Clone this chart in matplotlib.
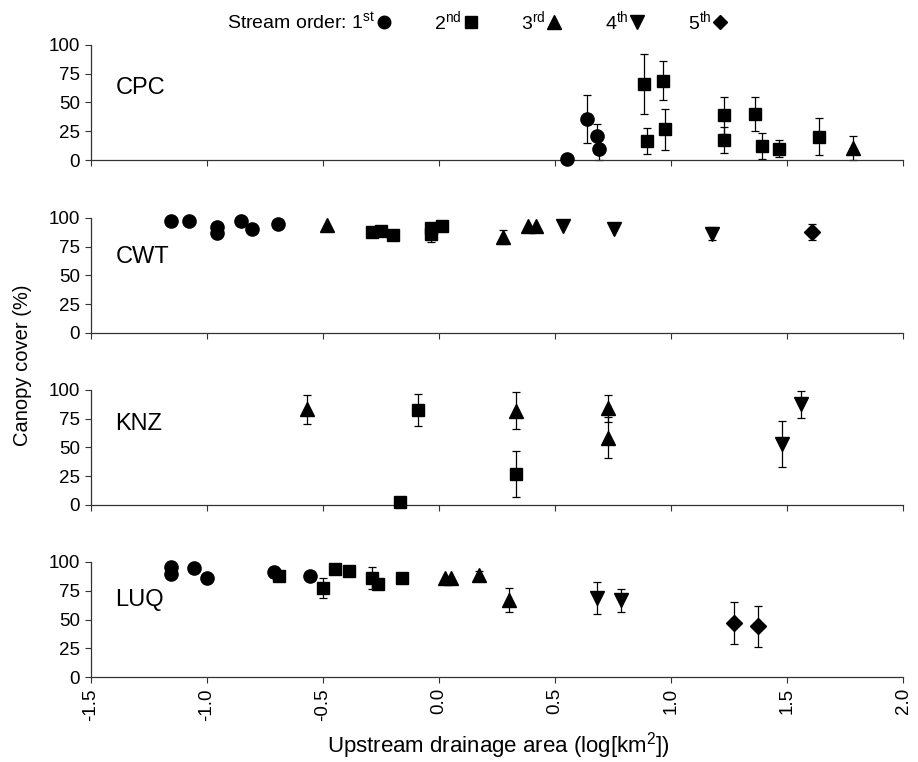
import matplotlib
matplotlib.use("Agg")
import matplotlib.pyplot as plt
from matplotlib.lines import Line2D

plt.rcParams['font.family'] = ['Liberation Sans', 'DejaVu Sans']
plt.rcParams['mathtext.fontset'] = 'custom'
plt.rcParams['mathtext.rm'] = 'Liberation Sans'
plt.rcParams['mathtext.it'] = 'Liberation Sans'

# stream order -> marker
order_markers = {1: 'o', 2: 's', 3: '^', 4: 'v', 5: 'D'}
order_sizes = {1: 9.5, 2: 9, 3: 10, 4: 10, 5: 8}
order_labels = ['Stream order: 1$^{\\rm st}$', '2$^{\\rm nd}$', '3$^{\\rm rd}$',
                '4$^{\\rm th}$', '5$^{\\rm th}$']

sites = ['CPC', 'CWT', 'KNZ', 'LUQ']

# CPC
cpc_x = [0.55, 0.64, 0.68, 0.69, 0.883, 0.964, 0.897, 0.976, 1.229, 1.229, 1.364, 1.394, 1.467, 1.638, 1.785]
cpc_y = [1, 35.5, 21, 9.5, 66, 69, 16.6, 26.7, 39, 17.4, 40, 12.2, 10, 20.3, 10.8]
cpc_err = [0, 21, 10.5, 9.5, 26, 17, 11, 18, 16, 11, 14.5, 11, 7.5, 16, 10.5]
cpc_order = [1, 1, 1, 1, 2, 2, 2, 2, 2, 2, 2, 2, 2, 2, 3]

# CWT
cwt_x = [-1.155, -1.076, -0.958, -0.958, -0.855, -0.807, -0.693, -0.484,
         -0.290, -0.251, -0.197, -0.036, -0.036, 0.011,
         0.275, 0.382, 0.417, 0.534, 0.754, 1.177, 1.607]
cwt_y = [97, 97, 92, 87, 97, 90, 95, 94,
         88.2, 88.8, 85.6, 91, 86, 93,
         83.4, 92.7, 92.7, 92.7, 90.7, 86.3, 87.8]
cwt_err = [0, 0, 0, 0, 0, 0, 0, 0,
           0, 0, 0, 0, 6.5, 0,
           5.7, 0, 0, 0, 0, 5.4, 7.3]
cwt_order = [1, 1, 1, 1, 1, 1, 1, 3,
             2, 2, 2, 2, 2, 2,
             3, 3, 3, 4, 4, 4, 5]

# KNZ
knz_x = [-0.568, 0.332, 0.729, 0.729, -0.09, -0.17, 0.332, 1.479, 1.561]
knz_y = [83, 82, 84, 58.6, 82.5, 3, 27, 53.4, 87.5]
knz_err = [12.5, 16, 12, 18, 14, 3, 20, 20, 11.6]
knz_order = [3, 3, 3, 3, 2, 2, 2, 4, 4]

# LUQ
luq_x = [-1.154, -1.154, -1.054, -1.002, -0.712, -0.554,
         -0.69, -0.50, -0.448, -0.388, -0.29, -0.262, -0.161,
         0.026, 0.051, 0.171, 0.301, 0.68, 0.783, 1.273, 1.376]
luq_y = [95.6, 89.8, 94.8, 86, 91.5, 87.5,
         88, 77.5, 93.9, 92.4, 86.4, 80.6, 86.4,
         86.3, 86.3, 89, 66.6, 69, 66.6, 47, 44]
luq_err = [0, 0, 0, 0, 0, 0,
           0, 8.7, 0, 0, 9.5, 0, 0,
           0, 0, 3, 10.5, 14, 10, 18, 18]
luq_order = [1, 1, 1, 1, 1, 1,
             2, 2, 2, 2, 2, 2, 2,
             3, 3, 3, 3, 4, 4, 5, 5]

data = {
    'CPC': (cpc_x, cpc_y, cpc_err, cpc_order),
    'CWT': (cwt_x, cwt_y, cwt_err, cwt_order),
    'KNZ': (knz_x, knz_y, knz_err, knz_order),
    'LUQ': (luq_x, luq_y, luq_err, luq_order),
}

y_ticks = [0, 25, 50, 75, 100]
x_ticks = [-1.5, -1.0, -0.5, 0.0, 0.5, 1.0, 1.5, 2.0]
label_y = {'CPC': 0.63, 'CWT': 0.66, 'KNZ': 0.70, 'LUQ': 0.67}

fig = plt.figure(figsize=(9.18, 7.62), dpi=100)
left, width, height = 0.0991, 0.8846, 0.151
bottoms = [0.790, 0.563, 0.3373, 0.1115]

axes = []
for site, b in zip(sites, bottoms):
    ax = fig.add_axes([left, b, width, height])
    axes.append(ax)
    xs, ys, errs, orders = data[site]
    for x, y, e, o in zip(xs, ys, errs, orders):
        if e > 0:
            ax.errorbar([x], [y], yerr=[e], fmt='none', ecolor='black',
                        elinewidth=0.9, capsize=3, capthick=0.9, clip_on=False, zorder=2)
        ax.plot([x], [y], marker=order_markers[o], markersize=order_sizes[o],
                color='black', linestyle='none', clip_on=False, zorder=3)
    ax.set_xlim(-1.5, 2.0)
    ax.set_ylim(0, 100)
    ax.set_yticks(y_ticks)
    ax.set_xticks(x_ticks)
    ax.spines['top'].set_visible(False)
    ax.spines['right'].set_visible(False)
    for s in ['left', 'bottom']:
        ax.spines[s].set_linewidth(0.9)
        ax.spines[s].set_color('#333333')
    ax.tick_params(direction='out', length=4, width=0.8, colors='#333333',
                   labelcolor='black', labelsize=13.5, pad=4)
    ax.text(0.03, label_y[site], site, transform=ax.transAxes, fontsize=17,
            ha='left', va='center')
    if site != 'LUQ':
        ax.set_xticklabels([])
    else:
        ax.set_xticklabels(['%.1f' % t for t in x_ticks], rotation=90)

fig.text(0.024, 0.521, 'Canopy cover (%)', rotation=90, ha='center', va='center', fontsize=14.5)
fig.text(0.543, 0.022, 'Upstream drainage area (log[km$^2$])', ha='center', va='center', fontsize=16)

handles = [Line2D([], [], marker=order_markers[o], markersize=order_sizes[o] * 0.95,
                  color='black', linestyle='none') for o in range(1, 6)]
fig.legend(handles, order_labels, loc='center', bbox_to_anchor=(0.52, 0.972), ncol=5,
           frameon=False, markerfirst=False, fontsize=14, handlelength=0.8,
           handletextpad=0.05, columnspacing=2.2)

fig.savefig('out.png', dpi=100)
